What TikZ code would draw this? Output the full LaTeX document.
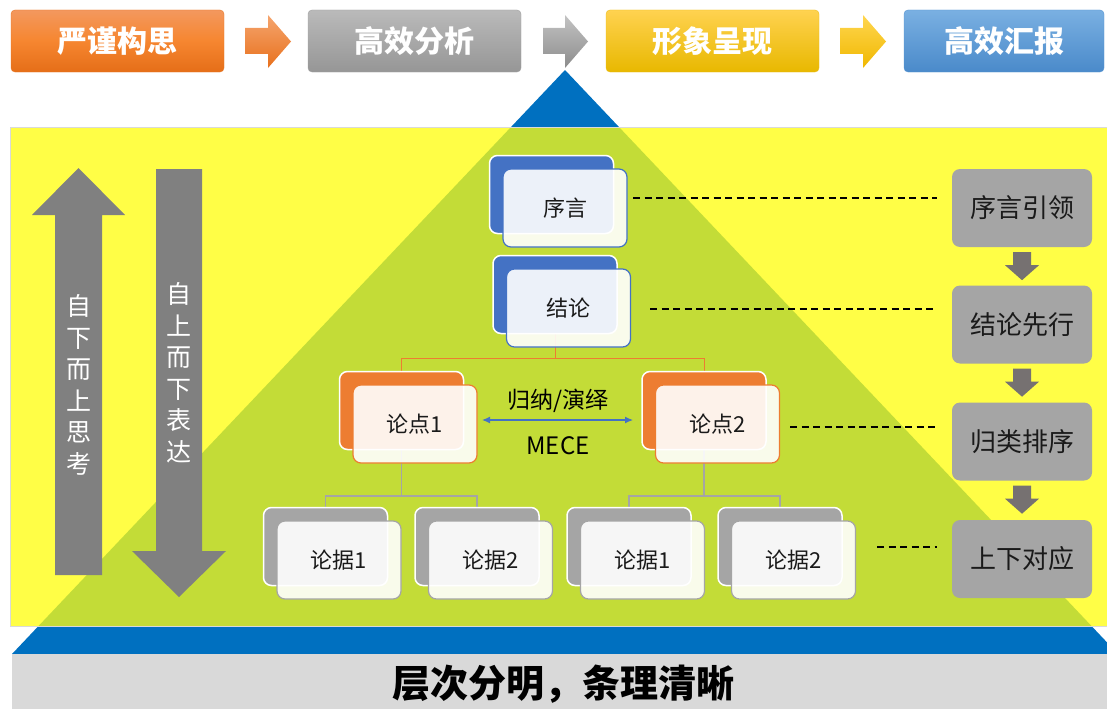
\documentclass[tikz,border=0pt]{standalone}
\usepackage{fontspec}
\newfontfamily\cjk{Noto Sans CJK SC}
\usetikzlibrary{calc,arrows.meta}
\definecolor{triblue}{HTML}{0070C0}
\definecolor{ylw}{HTML}{FFFE0D}
\definecolor{bandgray}{HTML}{D9D9D9}
\definecolor{cblue}{HTML}{4472C4}
\definecolor{corange}{HTML}{ED7D31}
\definecolor{cgray}{HTML}{A5A5A5}
\definecolor{bigarrow}{HTML}{808080}
\definecolor{smallarrow}{HTML}{767171}
\definecolor{txtdark}{HTML}{1A1A1A}
\pgfdeclarelayer{bg}
\pgfdeclarelayer{mid}
\pgfsetlayers{bg,mid,main}
\newcommand\pairbox[5]{%
  \node[backbox, fill=#4] (#1b) at (#2,#3) {};
  \node[frontbox, draw=#4] (#1) at ($(#1b)+(13.5,13.5)$) {#5};
}
\begin{document}
\begin{tikzpicture}[x=1pt,y=-1pt,
  topbox/.style={rounded corners=4pt, minimum width=213pt, minimum height=62pt, inner sep=0,
     text=white, font=\cjk\bfseries\fontsize{30}{32}\selectfont},
  backbox/.style={draw=white, line width=1.5pt, rounded corners=8pt, minimum width=124pt,
     minimum height=78pt, inner sep=0},
  frontbox/.style={fill=white, fill opacity=0.9, text opacity=1, line width=1.2pt,
     rounded corners=8pt, minimum width=124pt, minimum height=78pt, inner sep=0,
     text=txtdark, font=\cjk\fontsize{22}{24}\selectfont},
  rightbox/.style={fill=cgray, rounded corners=8pt, minimum width=140pt, minimum height=78pt,
     inner sep=0, text=txtdark, font=\cjk\fontsize{26}{28}\selectfont},
  dashline/.style={draw=black, line width=1.1pt, dash pattern=on 7pt off 4.5pt},
  vtext/.style={text=white, align=center, font=\cjk\fontsize{25}{31.5}\selectfont, inner sep=0}
]
\useasboundingbox (0,0) rectangle (1107,709);

% background layer
\begin{pgfonlayer}{bg}
  \begin{scope}
    \clip (0,0) rectangle (1107,709);
    \fill[triblue] (565,70) -- (1118,654) -- (12,654) -- cycle;
    \fill[bandgray] (12,654) rectangle (1107,709);
    \fill[ylw, fill opacity=0.765] (10,127) rectangle (1107,626);
    \draw[black!15, line width=0.8pt] (10,127) rectangle (1110,626);
  \end{scope}
\end{pgfonlayer}

% top process row
\node[topbox, top color={rgb,255:red,243;green,152;blue,94}, bottom color={rgb,255:red,229;green,110;blue,24},
      middle color={rgb,255:red,246;green,134;blue,48}, draw={rgb,255:red,230;green,120;blue,40}] (t1) at (117.5,41) {严谨构思};
\node[topbox, top color={rgb,255:red,186;green,186;blue,186}, middle color={rgb,255:red,168;green,168;blue,168},
      bottom color={rgb,255:red,150;green,150;blue,150}, draw={rgb,255:red,160;green,160;blue,160}] (t2) at (414.5,41) {高效分析};
\node[topbox, top color={rgb,255:red,255;green,210;blue,80}, middle color={rgb,255:red,255;green,200;blue,0},
      bottom color={rgb,255:red,232;green,184;blue,0}, draw={rgb,255:red,235;green,190;blue,30}] (t3) at (712.5,41) {形象呈现};
\node[topbox, minimum width=200pt, top color={rgb,255:red,122;green,176;blue,226}, middle color={rgb,255:red,92;green,156;blue,214},
      bottom color={rgb,255:red,74;green,138;blue,202}, draw={rgb,255:red,90;green,150;blue,210}] (t4) at (1004,41) {高效汇报};

\shade[top color={rgb,255:red,245;green,165;blue,110}, bottom color={rgb,255:red,232;green,112;blue,28}]
  (245,28) -- (268,28) -- (268,15) -- (291,41.5) -- (268,68) -- (268,54) -- (245,54) -- cycle;
\shade[top color={rgb,255:red,195;green,195;blue,195}, bottom color={rgb,255:red,140;green,140;blue,140}]
  (543,28) -- (565,28) -- (565,15) -- (588,41.5) -- (565,68) -- (565,54) -- (543,54) -- cycle;
\shade[top color={rgb,255:red,255;green,214;blue,80}, bottom color={rgb,255:red,240;green,184;blue,0}]
  (840,28) -- (863,28) -- (863,15) -- (886,41.5) -- (863,68) -- (863,54) -- (840,54) -- cycle;

% left big arrows
\fill[bigarrow] (55,575) -- (55,215) -- (32,215) -- (78.5,168) -- (125,215) -- (102,215) -- (102,575) -- cycle;
\fill[bigarrow] (156,169) -- (202,169) -- (202,551) -- (226,551) -- (179,597) -- (132,551) -- (156,551) -- cycle;
\node[vtext] (up) at (78.5,385) {自\\下\\而\\上\\思\\考};
\node[vtext] (down) at (179,373) {自\\上\\而\\下\\表\\达};

% pyramid nodes
\pairbox{xy}{551.5}{194.5}{cblue}{序言}
\pairbox{jl}{555}{294.5}{cblue}{结论}
\pairbox{ld1}{401.5}{410.5}{corange}{论点1}
\pairbox{ld2}{704}{410.5}{corange}{论点2}
\pairbox{lj1}{325.5}{546.5}{cgray}{论据1}
\pairbox{lj2}{477}{546.5}{cgray}{论据2}
\pairbox{lj3}{629}{546.5}{cgray}{论据1}
\pairbox{lj4}{780}{546.5}{cgray}{论据2}

\coordinate (h0) at (0,358);
\coordinate (h1) at (0,496);
\begin{pgfonlayer}{mid}
  \draw[corange, line width=1pt] (jlb.south) -- (jlb.south |- h0);
  \draw[corange, line width=1pt] (ld1b.north) -- (ld1b.north |- h0) -- (ld2b.north |- h0) -- (ld2b.north);
  \draw[cgray, line width=1.5pt] (ld1b.south) -- (ld1b.south |- h1);
  \draw[cgray, line width=1.5pt] (lj1b.north) -- (lj1b.north |- h1) -- (lj2b.north |- h1) -- (lj2b.north);
  \draw[cgray, line width=1.5pt] (ld2b.south) -- (ld2b.south |- h1);
  \draw[cgray, line width=1.5pt] (lj3b.north) -- (lj3b.north |- h1) -- (lj4b.north |- h1) -- (lj4b.north);
\end{pgfonlayer}

% MECE double arrow
\coordinate (m1) at (482,420);
\coordinate (m2) at (633,420);
\draw[cblue, line width=1.2pt, {Latex[length=8pt,width=7pt]}-{Latex[length=8pt,width=7pt]}] (m1) -- (m2);
\node[text=black, font=\cjk\fontsize{23}{25}\selectfont] (gn) at (558,401) {归纳/演绎};
\node[text=black, font=\cjk\fontsize{24}{26}\selectfont] (mece) at (558,446) {MECE};

% right column
\node[rightbox] (r1) at (1022,208) {序言引领};
\node[rightbox] (r2) at (1022,324.5) {结论先行};
\node[rightbox] (r3) at (1022,441.5) {归类排序};
\node[rightbox] (r4) at (1022,559) {上下对应};
\foreach \a/\b in {r1/r2,r2/r3,r3/r4}{
  \fill[smallarrow] (\a.south) ++(-9,5) -- ++(18,0) -- ++(0,13) -- ++(8,0) -- ++(-17,15)
     -- ++(-17,-15) -- ++(8,0) -- cycle;
}

% dashed leaders
\coordinate (d1) at (633,198);
\coordinate (d2) at (650,309);
\coordinate (d3) at (790,427);
\coordinate (d4) at (877,547);
\foreach \d/\r in {d1/r1,d2/r2,d3/r3,d4/r4}{
  \draw[dashline, shorten >=15pt] (\d) -- (\r.west |- \d);
}

% bottom slogan
\node[text=black, font=\cjk\bfseries\fontsize{38}{40}\selectfont] (slogan) at (563,684) {层次分明，条理清晰};
\end{tikzpicture}
\end{document}
